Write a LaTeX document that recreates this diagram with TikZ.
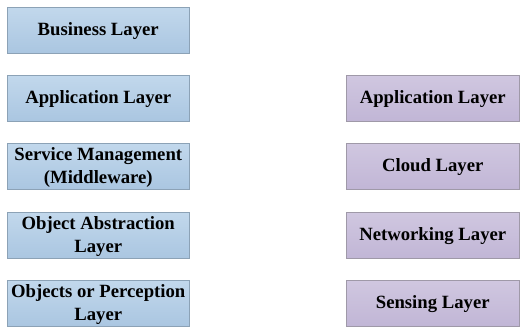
\documentclass[tikz,border=0pt]{standalone}
\usepackage{fontspec}
\setmainfont{Liberation Serif}
\definecolor{btop}{HTML}{C2D8EC}
\definecolor{bbot}{HTML}{AAC6E1}
\definecolor{bline}{HTML}{8CA2B6}
\definecolor{ptop}{HTML}{D0C7E0}
\definecolor{pbot}{HTML}{C1B6D6}
\definecolor{pline}{HTML}{9F99A8}
\begin{document}
\begin{tikzpicture}[x=1pt,y=-1pt,
  layer/.style={rectangle, minimum height=46pt, inner sep=0pt, line width=0.9pt},
  txt/.style={inner sep=0pt, align=center, font=\fontsize{18.7}{23}\selectfont\bfseries},
  bluebox/.style={layer, draw=bline, top color=btop, bottom color=bbot, minimum width=182.5pt},
  purplebox/.style={layer, draw=pline, top color=ptop, bottom color=pbot, minimum width=173.5pt}]
\useasboundingbox (0,0) rectangle (521,327);
\node[bluebox] (business) at (98.25,30) {};
\node[bluebox] (app) at (98.25,98) {};
\node[bluebox] (service) at (98.25,166) {};
\node[bluebox] (abstr) at (98.25,235) {};
\node[bluebox] (objects) at (98.25,303) {};
\node[purplebox] (app2) at (432.75,98) {};
\node[purplebox] (cloud) at (432.75,166) {};
\node[purplebox] (net) at (432.75,235) {};
\node[purplebox] (sensing) at (432.75,303) {};
\node[txt] (t1) at ([yshift=-1.5pt]business.center) {Business Layer};
\node[txt] (t2) at ([yshift=-1.5pt]app.center) {Application Layer};
\node[txt] (t3) at ([yshift=-1.5pt]service.center) {Service Management\\(Middleware)};
\node[txt] (t4) at ([yshift=-1.5pt]abstr.center) {Object Abstraction\\Layer};
\node[txt] (t5) at ([yshift=-1.5pt]objects.center) {Objects or Perception\\Layer};
\node[txt] (t6) at ([yshift=-1.5pt]app2.center) {Application Layer};
\node[txt] (t7) at ([yshift=-1.5pt]cloud.center) {Cloud Layer};
\node[txt] (t8) at ([yshift=-1.5pt]net.center) {Networking Layer};
\node[txt] (t9) at ([yshift=-1.5pt]sensing.center) {Sensing Layer};
\end{tikzpicture}
\end{document}
